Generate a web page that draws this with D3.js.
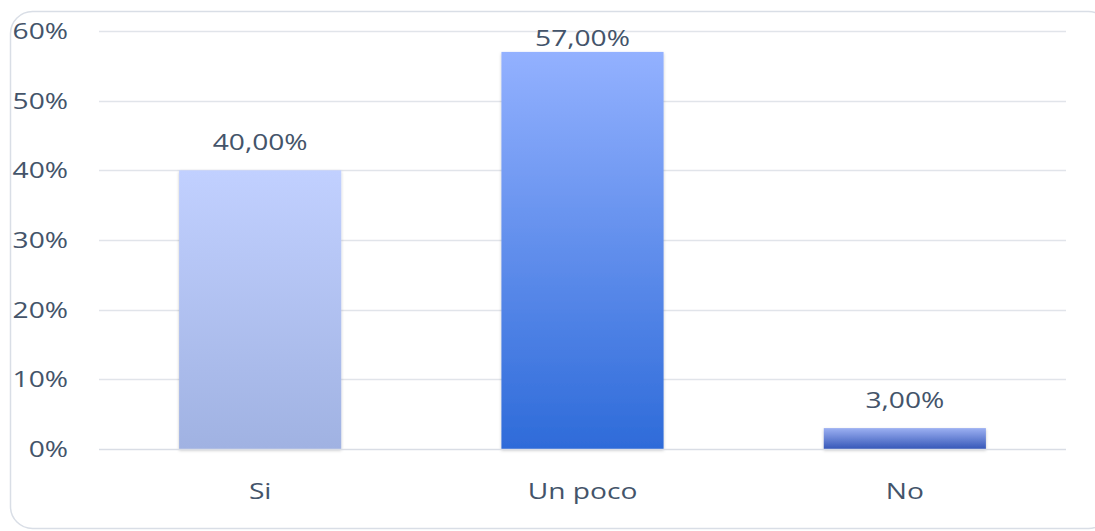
<!DOCTYPE html>
<html><head><meta charset="utf-8">
<script src="https://cdn.jsdelivr.net/npm/d3@7"></script>
<style>body{margin:0;background:#fff}svg{display:block}text{font-family:"Open Sans",sans-serif;fill:#44546a}</style>
</head><body><svg id="c" width="1095" height="531"></svg>
<script>
const categories = ["Si", "Un poco", "No"];
const values = [0.40, 0.57, 0.03];
const valueLabels = ["40,00%", "57,00%", "3,00%"];
const yTicks = [0, 0.1, 0.2, 0.3, 0.4, 0.5, 0.6];
const gradTop = ["#c1d0ff", "#93b1ff", "#9cb0f2"];
const gradBottom = ["#a0b2e2", "#2e6bd9", "#3657b8"];

const SX = 1.28, FS = 22;
const svg = d3.select("#c");
const m = {l: 99, r: 1066, t: 31, b: 449};
const x = d3.scaleBand().domain(categories).range([m.l, m.r]).paddingInner(0.497).paddingOuter(0.2485);
const y = d3.scaleLinear().domain([0, 0.6]).range([m.b, m.t]);

svg.append("rect").attr("x", 10.5).attr("y", 11.5).attr("width", 1100).attr("height", 517)
  .attr("rx", 22).attr("fill", "#fff").attr("stroke", "#d9dee6").attr("stroke-width", 1.5);

const defs = svg.append("defs");
categories.forEach((c, i) => {
  const g = defs.append("linearGradient").attr("id", "g" + i).attr("x1", 0).attr("y1", 0).attr("x2", 0).attr("y2", 1);
  g.append("stop").attr("offset", 0).attr("stop-color", gradTop[i]);
  g.append("stop").attr("offset", 1).attr("stop-color", gradBottom[i]);
});
const f = defs.append("filter").attr("id", "sh").attr("x", "-10%").attr("y", "-10%").attr("width", "120%").attr("height", "130%");
f.append("feDropShadow").attr("dx", 0).attr("dy", 1.5).attr("stdDeviation", 1.5).attr("flood-color", "#000").attr("flood-opacity", 0.22);

// grid
svg.append("g").selectAll("line").data(yTicks.slice(1)).join("line")
  .attr("x1", m.l).attr("x2", m.r).attr("y1", d => Math.round(y(d)) + 0.5).attr("y2", d => Math.round(y(d)) + 0.5)
  .attr("stroke", "#e1e4ea").attr("stroke-width", 1.5);

// y tick labels
svg.append("g").selectAll("text").data(yTicks).join("text")
  .attr("transform", d => `translate(68,${y(d) + 8}) scale(${SX},1)`)
  .attr("text-anchor", "end").attr("font-size", FS).text(d3.format(".0%"));

// bars
svg.append("g").selectAll("rect").data(values).join("rect")
  .attr("x", (d, i) => x(categories[i])).attr("width", x.bandwidth())
  .attr("y", d => y(d)).attr("height", d => y(0) - y(d))
  .attr("fill", (d, i) => `url(#g${i})`).attr("filter", "url(#sh)");

// baseline
svg.append("line").attr("x1", m.l).attr("x2", m.r).attr("y1", y(0) + 0.5).attr("y2", y(0) + 0.5)
  .attr("stroke", "#d9dde5").attr("stroke-width", 1.5);

// value labels
svg.append("g").selectAll("text").data(values).join("text")
  .attr("transform", (d, i) => `translate(${x(categories[i]) + x.bandwidth() / 2},${Math.max(y(d) - 20, m.t + 15)}) scale(${SX},1)`)
  .attr("text-anchor", "middle").attr("font-size", FS).text((d, i) => valueLabels[i]);

// category labels
svg.append("g").selectAll("text").data(categories).join("text")
  .attr("transform", d => `translate(${x(d) + x.bandwidth() / 2},${y(0) + 50}) scale(${SX},1)`)
  .attr("text-anchor", "middle").attr("font-size", FS).text(d => d);
</script></body></html>
